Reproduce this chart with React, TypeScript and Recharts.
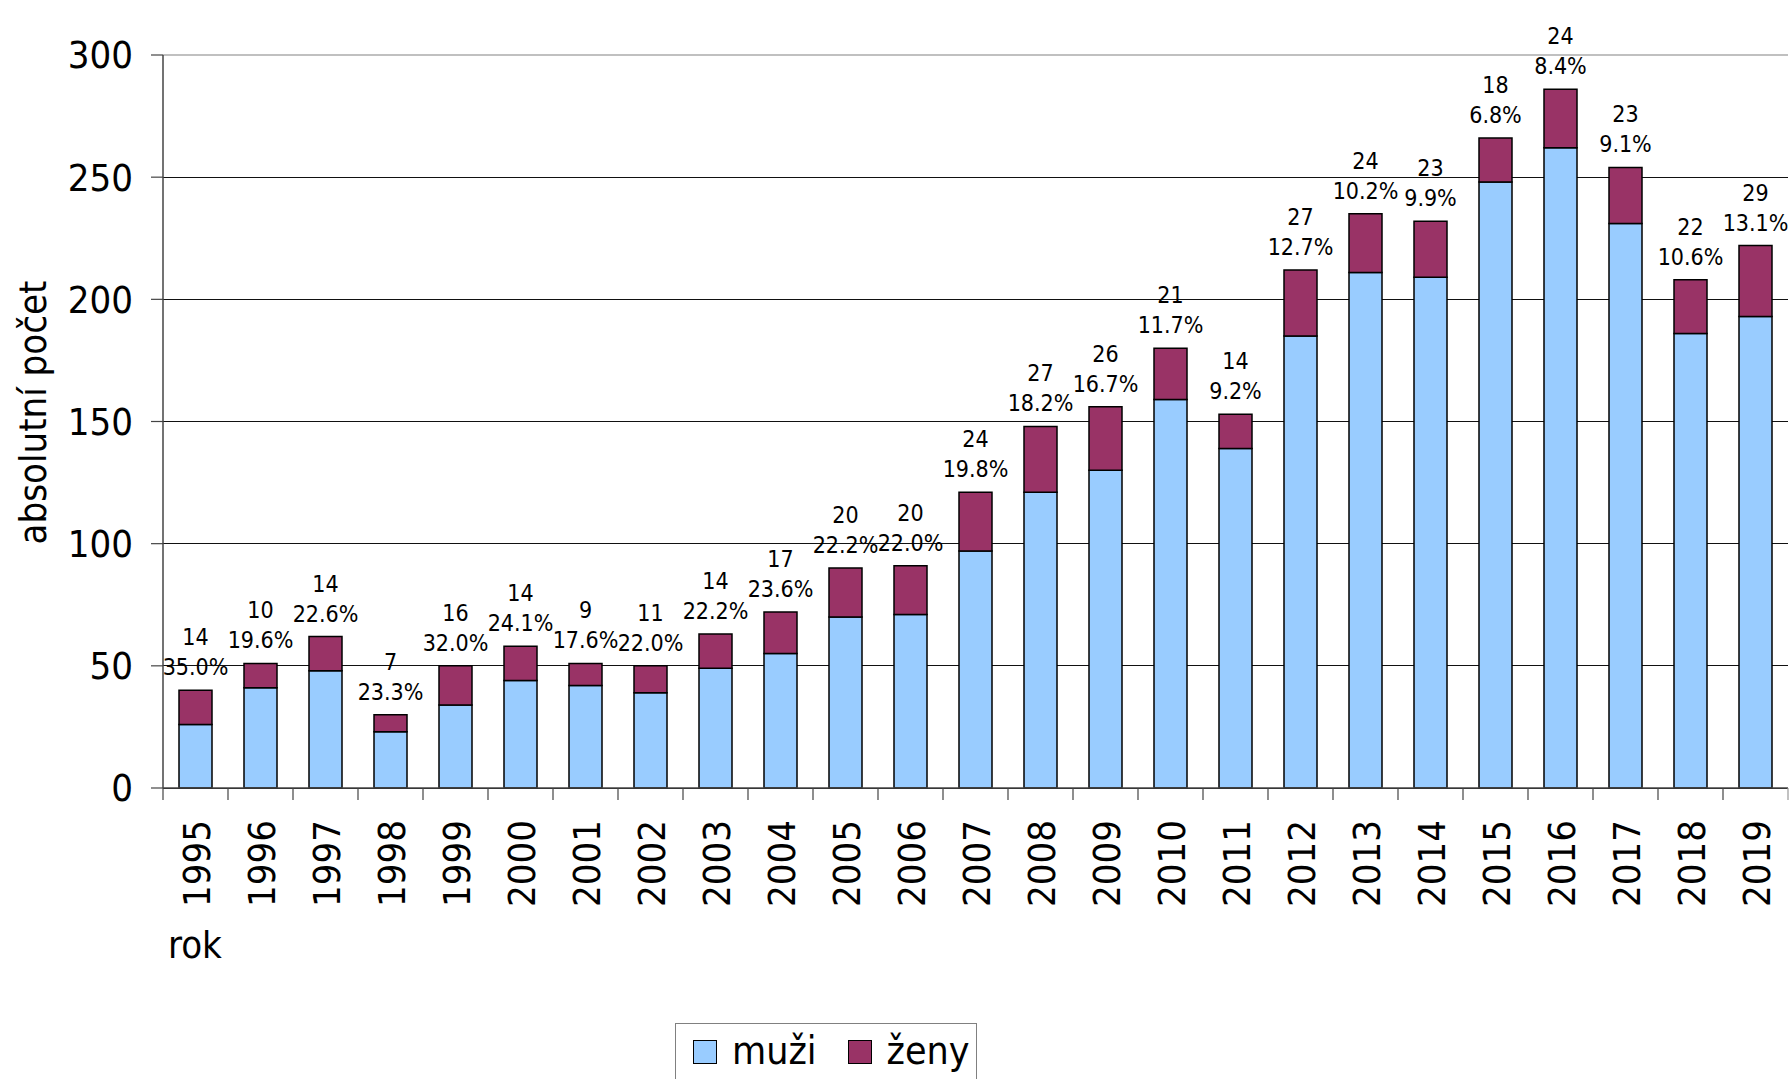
import React from 'react';
import { BarChart, Bar, XAxis, YAxis, CartesianGrid, LabelList, Legend, ReferenceLine } from 'recharts';

const years = ['1995','1996','1997','1998','1999','2000','2001','2002','2003','2004','2005','2006','2007','2008','2009','2010','2011','2012','2013','2014','2015','2016','2017','2018','2019'];
const muzi = [26,41,48,23,34,44,42,39,49,55,70,71,97,121,130,159,139,185,211,209,248,262,231,186,193];
const zeny = [14,10,14,7,16,14,9,11,14,17,20,20,24,27,26,21,14,27,24,23,18,24,23,22,29];
const zenyPct = ['35.0%','19.6%','22.6%','23.3%','32.0%','24.1%','17.6%','22.0%','22.2%','23.6%','22.2%','22.0%','19.8%','18.2%','16.7%','11.7%','9.2%','12.7%','10.2%','9.9%','6.8%','8.4%','9.1%','10.6%','13.1%'];
const yTicks = [0,50,100,150,200,250,300];

const data = years.map((rok, i) => ({ rok, muzi: muzi[i], zeny: zeny[i] }));

const W = 1789;
const H = 1079;
const margin = { top: 55, right: 1, left: 0, bottom: 91 };
const YAXIS_W = 163;
const XAXIS_H = 200;
const band = (W - margin.left - margin.right - YAXIS_W) / years.length;
const FONT = "'DejaVu Sans Condensed', 'DejaVu Sans', sans-serif";
const AXIS_COLOR = '#444';

const XTick = (props: any) => {
  const { x, y, payload, index } = props;
  const bx = x - band / 2;
  const tx = x + 14;
  const ty = y + 32;
  return (
    <g>
      <line x1={bx} y1={y} x2={bx} y2={y + 12} stroke={AXIS_COLOR} strokeWidth={1.2} />
      {index === years.length - 1 && (
        <line x1={x + band / 2} y1={y} x2={x + band / 2} y2={y + 12} stroke="#999" strokeWidth={1.2} />
      )}
      <text x={tx} y={ty} transform={`rotate(-90 ${tx} ${ty})`} textAnchor="end" fontSize={38} fontFamily={FONT} fill="#000">
        {payload.value}
      </text>
    </g>
  );
};

const renderBarLabel = (p: any) => {
  const i = years.indexOf(String(p.value));
  if (i < 0) return null;
  const cx = p.x + p.width / 2;
  const top = p.y;
  return (
    <g>
      <text x={cx} y={top - 45} textAnchor="middle" fontSize={23} fontFamily={FONT} fill="#000">{zeny[i]}</text>
      <text x={cx} y={top - 15} textAnchor="middle" fontSize={23} fontFamily={FONT} fill="#000">{zenyPct[i]}</text>
    </g>
  );
};

const YLabel = (p: any) => {
  const vb = p.viewBox || { x: 0, y: margin.top, width: YAXIS_W, height: 733 };
  const cx = vb.x + 46;
  const cy = vb.y + vb.height / 2 - 9;
  return (
    <text x={cx} y={cy} transform={`rotate(-90 ${cx} ${cy})`} textAnchor="middle" fontSize={38} fontFamily={FONT} fill="#000">
      absolutní počet
    </text>
  );
};

const XLabel = (p: any) => {
  const vb = p.viewBox || { x: YAXIS_W, y: 788, width: 1625, height: XAXIS_H };
  return (
    <text x={vb.x + 5} y={vb.y + 170} fontSize={38} fontFamily={FONT} fill="#000">rok</text>
  );
};

const legendItems = [
  { label: 'muži', color: '#99CCFF' },
  { label: 'ženy', color: '#993366' },
];

const LegendContent = () => (
  <div
    style={{
      boxSizing: 'border-box',
      width: 302,
      height: 56,
      border: '1px solid #808080',
      borderBottom: 'none',
      background: '#fff',
      display: 'flex',
      alignItems: 'flex-start',
      paddingLeft: 17,
      paddingTop: 15,
      fontFamily: FONT,
      fontSize: 39,
      color: '#000',
    }}
  >
    {legendItems.map((it, k) => (
      <div key={it.label} style={{ display: 'flex', alignItems: 'center', marginLeft: k === 0 ? 0 : 31 }}>
        <span style={{ display: 'inline-block', width: 22, height: 22, background: it.color, border: '1.5px solid #000' }} />
        <span style={{ marginLeft: 15, lineHeight: '26px', position: 'relative', top: -1 }}>{it.label}</span>
      </div>
    ))}
  </div>
);

export default function App() {
  return (
    <div style={{ width: W, height: H, background: '#fff' }}>
      <style>{`body{margin:0;overflow:hidden;background:#fff}`}</style>
      <BarChart width={W} height={H} data={data} margin={margin} barSize={33}>
        <CartesianGrid vertical={false} stroke="#111" strokeWidth={1} shapeRendering="crispEdges" />
        <ReferenceLine y={300} stroke="#c0c0c0" strokeWidth={2} />
        <XAxis
          dataKey="rok"
          interval={0}
          height={XAXIS_H}
          tickSize={0}
          tickMargin={0}
          tickLine={false}
          axisLine={{ stroke: AXIS_COLOR, strokeWidth: 1.5 }}
          tick={<XTick />}
          label={{ content: <XLabel /> }}
        />
        <YAxis
          width={YAXIS_W}
          domain={[0, 300]}
          ticks={yTicks}
          interval={0}
          tickSize={12}
          tickMargin={18}
          axisLine={{ stroke: AXIS_COLOR, strokeWidth: 1.5 }}
          tickLine={{ stroke: AXIS_COLOR, strokeWidth: 1.2 }}
          tick={{ fontSize: 38, fontFamily: FONT, fill: '#000' }}
          label={{ content: <YLabel /> }}
        />
        <YAxis
          yAxisId="r"
          orientation="right"
          width={0}
          domain={[0, 300]}
          tick={false}
          tickLine={false}
          axisLine={{ stroke: '#c0c0c0', strokeWidth: 2 }}
        />
        <Legend
          layout="horizontal"
          verticalAlign="middle"
          align="center"
          content={<LegendContent />}
          wrapperStyle={{ position: 'absolute', left: 675, top: 1023, width: 302, height: 56 }}
        />
        <Bar dataKey="muzi" name="muži" stackId="a" fill="#99CCFF" stroke="#000" strokeWidth={1.5} isAnimationActive={false} />
        <Bar dataKey="zeny" name="ženy" stackId="a" fill="#993366" stroke="#000" strokeWidth={1.5} isAnimationActive={false}>
          <LabelList dataKey="rok" content={renderBarLabel} />
        </Bar>
      </BarChart>
    </div>
  );
}
